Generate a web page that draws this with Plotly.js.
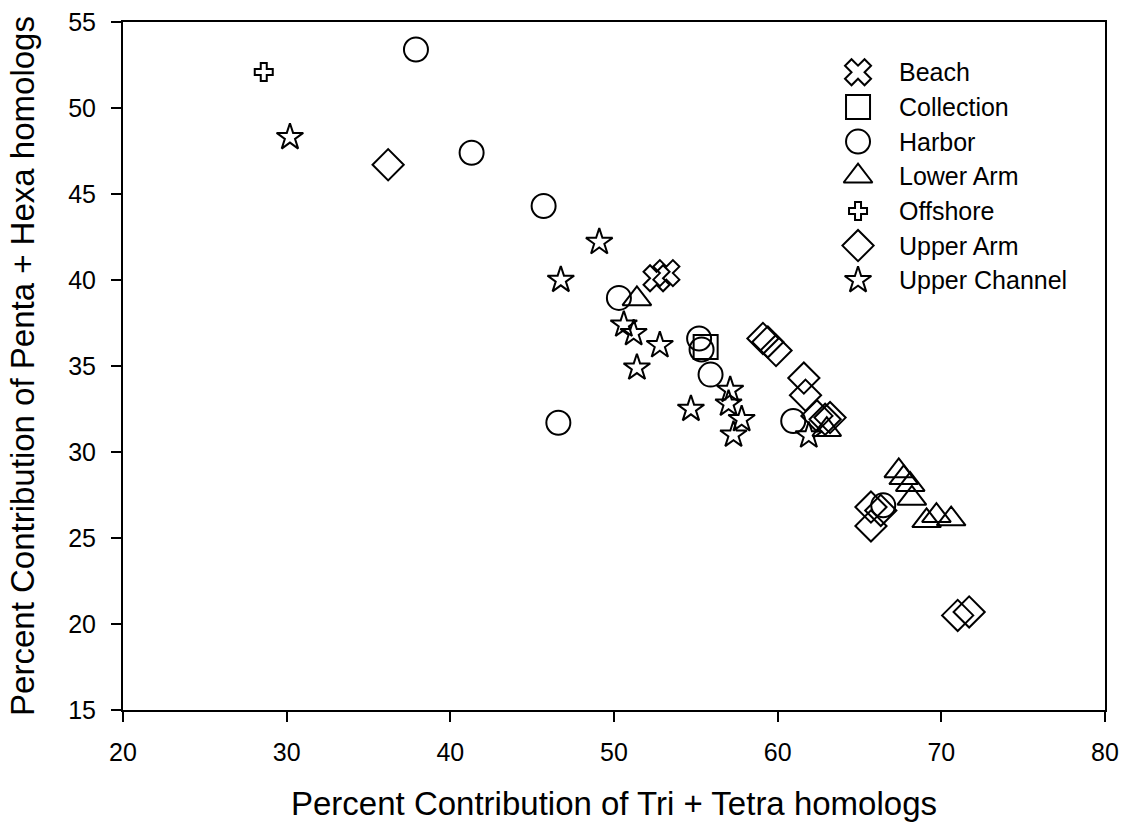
<!DOCTYPE html>
<html>
<head>
<meta charset="utf-8">
<script src="https://cdn.plot.ly/plotly-3.0.1.min.js"></script>
<style>html,body{margin:0;padding:0;background:#fff;}#chart{width:1124px;height:824px;}</style>
</head>
<body>
<div id="chart"></div>
<script>
// Data
const beachX = [52.6, 53.2];
const beachY = [40.1, 40.4];

const collectionX = [55.6];
const collectionY = [36.1];

const harborX = [37.9, 41.3, 45.7, 50.3, 55.2, 55.35, 55.9, 46.6, 60.95, 66.45];
const harborY = [53.4, 47.4, 44.3, 38.96, 36.6, 35.96, 34.5, 31.7, 31.8, 26.9];

const lowerArmX = [51.4, 63.0, 67.4, 67.7, 68.1, 68.2, 69.1, 69.7, 70.6];
const lowerArmY = [38.9, 31.3, 28.9, 28.5, 28.1, 27.3, 26.0, 26.3, 26.1];

const offshoreX = [28.6];
const offshoreY = [52.1];

const upperArmX = [36.2, 59.1, 59.4, 59.9, 61.6, 61.7, 62.4, 62.9, 63.2, 65.7, 66.3, 65.7, 71.0, 71.7];
const upperArmY = [46.7, 36.6, 36.4, 35.9, 34.3, 33.3, 32.1, 31.9, 32.0, 26.8, 26.6, 25.7, 20.5, 20.7];

const upperChannelX = [30.2, 49.1, 46.75, 50.6, 51.2, 52.8, 51.4, 57.1, 57.0, 57.8, 57.3, 54.7, 61.9];
const upperChannelY = [48.3, 42.2, 40.0, 37.4, 36.9, 36.2, 34.9, 33.6, 32.8, 31.9, 31.0, 32.5, 30.95];

const seriesNames = ['Beach', 'Collection', 'Harbor', 'Lower Arm', 'Offshore', 'Upper Arm', 'Upper Channel'];

const xTicks = [20, 30, 40, 50, 60, 70, 80];
const yTicks = [15, 20, 25, 30, 35, 40, 45, 50, 55];

// Styling
const FONT = 'Liberation Sans, Arial, sans-serif';
const symbols = ['x-open', 'square-open', 'circle-open', 'triangle-up-open', 'cross-open', 'diamond-open', 'star-open'];
const sizes = [23, 24, 24, 25, 15, 24, 20];
const seriesX = [beachX, collectionX, harborX, lowerArmX, offshoreX, upperArmX, upperChannelX];
const seriesY = [beachY, collectionY, harborY, lowerArmY, offshoreY, upperArmY, upperChannelY];

function markerStyle(i) {
  return {symbol: symbols[i], size: sizes[i], color: '#000', line: {color: '#000', width: 2}};
}

const traces = [];
seriesNames.forEach((name, i) => {
  traces.push({
    type: 'scatter', mode: 'markers', name: name,
    x: seriesX[i], y: seriesY[i],
    marker: markerStyle(i), showlegend: false, cliponaxis: false
  });
});

// Legend drawn as a key on an overlay axis spanning the plot area (0..1 both ways)
const legSymX = 0.7485, legTextX = 0.788, legTop = 0.927, legStep = 0.0504;
const annotations = [];
seriesNames.forEach((name, i) => {
  traces.push({
    type: 'scatter', mode: 'markers', name: name, xaxis: 'x2', yaxis: 'y2',
    x: [legSymX], y: [legTop - i * legStep],
    marker: markerStyle(i), showlegend: false, cliponaxis: false, hoverinfo: 'skip'
  });
  annotations.push({
    xref: 'x2', yref: 'y2', x: legTextX, y: legTop - i * legStep,
    text: name, showarrow: false, xanchor: 'left', yanchor: 'middle',
    font: {family: FONT, size: 25, color: '#000'}
  });
});

const layout = {
  width: 1124, height: 824,
  paper_bgcolor: '#fff', plot_bgcolor: '#fff',
  margin: {l: 123, r: 19, t: 22, b: 114, pad: 0},
  font: {family: FONT, color: '#000'},
  showlegend: false,
  annotations: annotations,
  xaxis: {
    range: [20, 80], tickvals: xTicks, ticktext: xTicks.map(String),
    showgrid: false, zeroline: false,
    showline: true, linecolor: '#000', linewidth: 2, mirror: true,
    ticks: 'outside', ticklen: 10, tickwidth: 2, tickcolor: '#000',
    ticklabelstandoff: 9,
    tickfont: {family: FONT, size: 25, color: '#000'},
    title: {text: 'Percent Contribution of Tri + Tetra homologs', font: {family: FONT, size: 33, color: '#000'}, standoff: 27}
  },
  yaxis: {
    range: [15, 55], tickvals: yTicks, ticktext: yTicks.map(String),
    showgrid: false, zeroline: false,
    showline: true, linecolor: '#000', linewidth: 2, mirror: true,
    ticks: 'outside', ticklen: 10, tickwidth: 2, tickcolor: '#000',
    ticklabelstandoff: 10,
    tickfont: {family: FONT, size: 25, color: '#000'},
    title: {text: 'Percent Contribution of Penta + Hexa homologs', font: {family: FONT, size: 33, color: '#000'}, standoff: 24}
  },
  xaxis2: {overlaying: 'x', anchor: 'y2', range: [0, 1], visible: false, fixedrange: true},
  yaxis2: {overlaying: 'y', anchor: 'x2', range: [0, 1], visible: false, fixedrange: true}
};

Plotly.newPlot('chart', traces, layout, {displayModeBar: false, staticPlot: true});
</script>
</body>
</html>
